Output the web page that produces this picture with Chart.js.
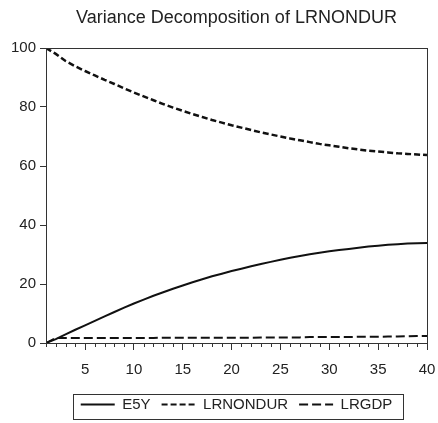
<!DOCTYPE html>
<html><head><meta charset="utf-8">
<style>html,body{margin:0;padding:0;background:#fff}#c{display:block}</style>
<script src="https://cdn.jsdelivr.net/npm/chart.js@4/dist/chart.umd.min.js"></script>
</head><body>
<canvas id="c" width="438" height="423"></canvas>
<script>
const titleText = "Variance Decomposition of LRNONDUR";
const periods = [1,2,3,4,5,6,7,8,9,10,11,12,13,14,15,16,17,18,19,20,21,22,23,24,25,26,27,28,29,30,31,32,33,34,35,36,37,38,39,40];
const e5y = [0,1.3,2.9,4.5,6.0,7.5,9.0,10.5,12.0,13.4,14.7,16.0,17.2,18.4,19.5,20.6,21.6,22.6,23.5,24.4,25.2,26.0,26.8,27.5,28.2,28.9,29.5,30.1,30.6,31.1,31.5,31.9,32.3,32.7,33.0,33.3,33.5,33.7,33.8,33.9];
const lrnondur = [100,98.0,95.6,93.8,92.2,90.7,89.2,87.8,86.3,84.9,83.6,82.3,81.0,79.8,78.7,77.6,76.6,75.6,74.7,73.8,73.0,72.2,71.4,70.7,70.0,69.3,68.7,68.1,67.5,67.0,66.5,66.0,65.6,65.2,64.9,64.6,64.3,64.1,63.9,63.7];
const lrgdp = [0,1.7,1.7,1.7,1.7,1.7,1.7,1.7,1.7,1.7,1.7,1.7,1.8,1.8,1.8,1.8,1.8,1.8,1.8,1.8,1.8,1.8,1.9,1.9,1.9,1.9,1.9,2.0,2.0,2.0,2.0,2.0,2.1,2.1,2.1,2.2,2.2,2.3,2.4,2.4];
const xTickLabels = [5,10,15,20,25,30,35,40];
const yTickLabels = [0,20,40,60,80,100];

const ink = '#222';
const axisColor = '#333';
const FONT = "'Liberation Sans', Arial, sans-serif";

function pts(vals){ return periods.map((p,i)=>({x:p,y:vals[i]})); }

const framePlugin = {
  id: 'frame',
  afterDraw(chart){
    const {ctx, chartArea:a} = chart;
    const xs = chart.scales.x;
    ctx.save();
    ctx.strokeStyle = axisColor;
    ctx.lineWidth = 1;
    ctx.strokeRect(a.left+0.5, a.top+0.5, a.right-a.left, a.bottom-a.top);
    ctx.beginPath();
    periods.forEach(p=>{
      if (!xTickLabels.includes(p)) {
        const px = Math.round(xs.getPixelForValue(p))+0.5;
        ctx.moveTo(px, a.bottom); ctx.lineTo(px, a.bottom+4);
      }
    });
    ctx.stroke();
    const lg = chart.legend;
    if (lg && lg.legendHitBoxes && lg.legendHitBoxes.length){
      const hb = lg.legendHitBoxes;
      const l = hb[0].left - 8, r = hb[hb.length-1].left + hb[hb.length-1].width + 10;
      const t = hb[0].top - 3, b = hb[0].top + hb[0].height + 7;
      ctx.strokeRect(Math.round(l)+0.5, Math.round(t)+0.5, Math.round(r-l), Math.round(b-t));
    }
    ctx.restore();
  }
};

new Chart(document.getElementById('c'), {
  type: 'line',
  data: {
    datasets: [
      {label:'E5Y', data: pts(e5y), borderColor:'#111', borderWidth:2, borderDash:[], pointRadius:0, tension:0},
      {label:'LRNONDUR', data: pts(lrnondur), borderColor:'#111', borderWidth:2.5, borderDash:[6,3], pointRadius:0, tension:0},
      {label:'LRGDP', data: pts(lrgdp), borderColor:'#111', borderWidth:2, borderDash:[9,4], pointRadius:0, tension:0}
    ]
  },
  options: {
    responsive:false, animation:false,
    layout:{padding:{left:0,right:11,top:0,bottom:1}},
    plugins:{
      title:{display:true, text:titleText, fullSize:false, color:ink, font:{family:FONT,size:18,weight:'normal'}, padding:{top:7,bottom:19.4}},
      legend:{position:'bottom', fullSize:false,
        labels:{usePointStyle:true, pointStyle:'line', pointStyleWidth:34, boxHeight:15, color:ink, padding:11, font:{family:FONT,size:15},
          generateLabels(chart){
            return chart.data.datasets.map((ds,i)=>({
              text: ds.label, datasetIndex:i, hidden:false,
              strokeStyle: ds.borderColor, fillStyle: ds.borderColor, fontColor: ink,
              lineWidth: 2, lineDash: ds.borderDash, pointStyle:'line'
            }));
          }}},
      tooltip:{enabled:false}
    },
    scales:{
      x:{type:'linear', min:1, max:40,
        afterFit(s){ s.height = 43; s.paddingLeft = 0; s.paddingRight = 0; },
        border:{color:axisColor, width:1},
        grid:{drawOnChartArea:false, tickLength:7, tickColor:(c)=> (c.tick && xTickLabels.includes(c.tick.value)) ? axisColor : 'rgba(0,0,0,0)'},
        ticks:{stepSize:1, autoSkip:false, maxRotation:0, padding:11, color:ink, font:{family:FONT,size:15},
          callback:(v)=> xTickLabels.includes(v) ? String(v) : ''}
      },
      y:{min:0, max:100,
        afterFit(s){ s.width = 46; },
        border:{color:axisColor, width:1},
        grid:{drawOnChartArea:false, tickLength:6, tickColor:axisColor},
        ticks:{stepSize:20, padding:4, color:ink, font:{family:FONT,size:15},
          callback:(v)=> yTickLabels.includes(v) ? String(v) : ''}
      }
    }
  },
  plugins:[framePlugin]
});
</script>
</body></html>
